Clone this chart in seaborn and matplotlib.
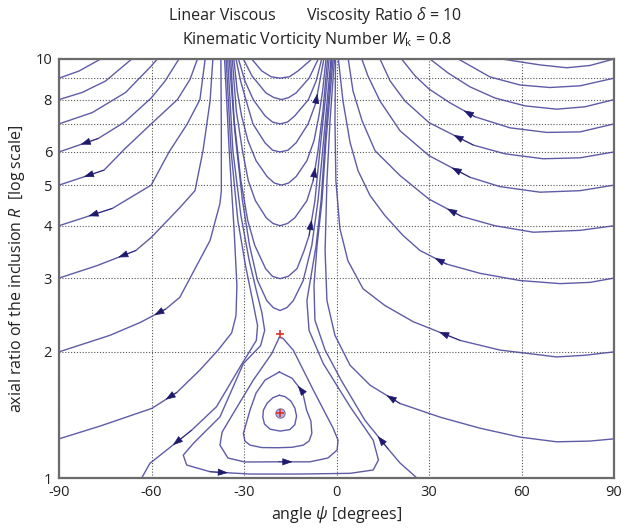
import numpy as np
import pandas as pd
import matplotlib
matplotlib.use("Agg")
import matplotlib.pyplot as plt
from matplotlib.ticker import NullLocator
import seaborn as sns

# ---- trajectories: angle psi [deg], axial ratio R ----
# left family, leaving through psi = -90
L1_psi = [-76.5, -83.5, -90.0]
L1_R = [10.0, 9.36, 9.0]
L2_psi = [-66.4, -74.9, -82.5, -90.0]
L2_R = [10.0, 8.86, 8.32, 8.0]
L3_psi = [-58.1, -60.1, -68.4, -79.2, -90.0]
L3_R = [10.0, 9.62, 8.32, 7.45, 7.0]
L4_psi = [-51.1, -55.6, -60.1, -68.6, -77.3, -90.0]
L4_R = [10.0, 8.86, 8.07, 7.08, 6.46, 6.0]
L5_psi = [-45.1, -47.5, -51.6, -60.1, -68.6, -75.4, -90.0]
L5_R = [10.0, 8.94, 8.0, 7.0, 6.11, 5.43, 5.0]
L6_psi = [-42.6, -44.3, -48.4, -54.3, -60.1, -72.7, -90.0]
L6_R = [10.0, 8.0, 7.0, 6.0, 5.0, 4.4, 4.0]
L7_psi = [-40.1, -41.0, -43.3, -45.9, -50.8, -60.1, -65.1, -77.8, -90.0]
L7_R = [10.0, 7.94, 6.04, 4.85, 4.42, 3.75, 3.49, 3.21, 3.0]
L8_psi = [-37.5, -37.35, -37.35, -37.8, -41.0, -50.8, -55.4, -63.7, -73.5, -90.0]
L8_R = [10.0, 6.74, 4.85, 4.52, 3.69, 2.70, 2.53, 2.35, 2.19, 2.0]
L9_psi = [-36.3, -34.8, -33.2, -32.3, -32.6, -34.0, -38.4, -44.3, -51.8, -59.9, -76.7, -90.0]
L9_R = [10.0, 6.04, 3.90, 2.88, 2.44, 2.22, 2.02, 1.81, 1.60, 1.466, 1.33, 1.24]
L10_psi = [-35.8, -34.2, -32.0, -29.5, -27.2, -25.6, -26.0, -31.3, -38.9, -47.0, -60.5, -63.2]
L10_R = [10.0, 6.04, 4.12, 3.21, 2.65, 2.31, 2.13, 1.84, 1.48, 1.30, 1.084, 1.0]

# U-shaped trajectories above the saddle
U1_psi = [-27.5, -24.2, -21.2, -18.3, -15.3, -12.5, -8.0]
U1_R = [10.0, 9.36, 9.07, 9.0, 9.07, 9.36, 10.0]
U2_psi = [-30.2, -27.4, -22.9, -20.3, -17.8, -15.5, -13.1, -8.9, -5.9]
U2_R = [10.0, 9.11, 8.30, 8.09, 8.0, 8.09, 8.30, 9.0, 10.0]
U3_psi = [-31.8, -29.7, -27.0, -23.2, -20.75, -18.3, -15.9, -13.5, -9.1, -6.6, -4.8]
U3_R = [10.0, 8.86, 8.0, 7.32, 7.07, 7.0, 7.07, 7.32, 8.0, 8.86, 10.0]
U4_psi = [-32.6, -31.1, -29.4, -27.1, -23.2, -20.75, -18.3, -15.7, -13.1, -9.2, -6.8, -5.4, -4.1]
U4_R = [10.0, 8.86, 8.0, 7.0, 6.31, 6.06, 6.0, 6.06, 6.31, 7.0, 7.82, 8.86, 10.0]
U5_psi = [-33.3, -32.2, -30.8, -28.7, -26.1, -22.5, -20.2, -17.8, -15.5, -13.1, -9.6, -7.3,
          -5.7, -4.5, -3.4]
U5_R = [10.0, 8.39, 7.32, 6.38, 5.72, 5.24, 5.06, 5.0, 5.06, 5.24, 5.72, 6.38, 7.32, 8.39, 10.0]
U6_psi = [-33.8, -32.5, -30.5, -28.6, -26.3, -22.8, -20.6, -18.3, -15.9, -13.5, -9.6, -7.6,
          -6.0, -4.4, -2.9]
U6_R = [10.0, 7.52, 6.04, 5.12, 4.59, 4.18, 4.05, 4.0, 4.05, 4.18, 4.59, 5.12, 6.04, 7.52, 10.0]
U7_psi = [-34.3, -33.2, -31.0, -28.8, -26.5, -23.0, -20.8, -18.3, -15.6, -12.8, -10.5, -8.9,
          -7.0, -5.4, -3.7, -2.4]
U7_R = [10.0, 7.12, 5.12, 4.12, 3.59, 3.16, 3.03, 2.99, 3.03, 3.16, 3.49, 3.79, 4.59, 6.04,
        7.94, 10.0]
U8_psi = [-34.8, -33.0, -30.5, -28.2, -25.6, -22.6, -20.5, -18.3, -16.1, -14.0, -10.8, -8.0,
          -6.0, -4.2, -1.8]
U8_R = [10.0, 6.74, 4.59, 3.59, 2.96, 2.65, 2.55, 2.51, 2.55, 2.65, 2.96, 3.59, 4.59, 6.38, 10.0]

# trajectory passing round the homoclinic loop
W_psi = [-35.3, -33.6, -31.0, -28.3, -26.0, -24.2, -23.3, -24.6, -30.2, -37.8, -46.4, -49.7,
         -48.6, -41.0, -28.1, -11.8, 4.4, 11.9, 13.6, 11.9, 4.4, -4.3, -8.9, -9.6, -6.6,
         -5.0, -3.7, -1.5]
W_R = [10.0, 6.04, 4.23, 3.30, 2.80, 2.48, 2.25, 2.07, 1.876, 1.399, 1.21, 1.134,
       1.074, 1.035, 1.022, 1.022, 1.026, 1.045, 1.104, 1.231, 1.48, 1.876, 2.25, 2.65, 3.59,
       4.59, 6.38, 10.0]

# closed orbits round the centre
H_psi = [-18.55, -21.0, -27.0, -33.5, -37.1, -37.8, -35.2, -29.7, -18.9, -8.6, -2.8, 0.2,
         0.5, -1.1, -7.5, -14.0, -17.35, -18.55]
H_R = [2.167, 1.981, 1.712, 1.426, 1.287, 1.198, 1.116, 1.092, 1.093, 1.093, 1.116, 1.166,
       1.231, 1.315, 1.62, 2.018, 2.154, 2.167]
C2_psi = [-18.55, -23.2, -26.1, -28.05, -30.2, -29.7, -28.05, -24.2, -18.9, -14.4, -10.8,
          -8.9, -8.0, -8.3, -9.7, -11.0, -14.4, -18.55]
C2_R = [1.791, 1.712, 1.594, 1.452, 1.278, 1.225, 1.198, 1.182, 1.181, 1.184, 1.198,
        1.225, 1.278, 1.367, 1.452, 1.605, 1.73, 1.791]
C1_psi = [-18.55, -20.6, -22.5, -23.7, -23.9, -23.35, -21.55, -18.3, -15.1, -13.5, -12.95,
          -13.5, -14.75, -16.7, -18.55]
C1_R = [1.576, 1.555, 1.509, 1.452, 1.397, 1.345, 1.308, 1.294, 1.305, 1.341, 1.405,
        1.468, 1.525, 1.564, 1.576]

# trajectory starting at R = 1 on the right
B1_psi = [26.1, 20.6, 16.8, 9.2, 1.5, -3.7, -7.0, -7.3, -6.3, -4.7, -3.4, -1.1]
B1_R = [1.0, 1.086, 1.172, 1.374, 1.712, 2.02, 2.38, 2.88, 3.59, 4.59, 6.38, 10.0]

# right family, entering through psi = +90
RJ_psi = [90.0, 82.2, 71.4, 59.5, 46.5, 33.6, 20.6, 10.9, 4.4, -0.5, -3.1, -3.7, -3.1, -2.1, -0.65]
RJ_R = [1.24, 1.225, 1.220, 1.252, 1.315, 1.397, 1.506, 1.665, 1.858, 2.19, 2.65, 3.49, 5.12, 7.12, 10.0]
RI_psi = [90.0, 80.6, 71.4, 53.0, 40.1, 24.9, 15.7, 8.6, 3.7, 1.1, -0.2, -0.5, -0.3]
RI_R = [2.0, 1.963, 1.945, 2.02, 2.13, 2.36, 2.58, 2.83, 3.30, 3.94, 5.12, 7.12, 10.0]
RH_psi = [90.0, 82.2, 72.5, 59.5, 46.5, 35.7, 27.1, 21.6, 15.7, 10.9, 7.0, 4.4, 2.1, 0.6]
RH_R = [3.0, 2.93, 2.91, 2.96, 3.08, 3.24, 3.49, 3.79, 4.23, 4.72, 5.41, 6.32, 7.94, 10.0]
RG_psi = [90.0, 79.0, 63.8, 51.4, 40.6, 30.0, 20.6, 12.5, 8.3, 5.35, 3.8]
RG_R = [4.0, 3.90, 3.86, 4.00, 4.21, 4.63, 5.27, 6.04, 7.12, 8.39, 10.0]
RF_psi = [90.0, 79.0, 66.0, 53.0, 43.3, 30.0, 20.6, 14.1, 10.2, 8.2]
RF_R = [5.0, 4.85, 4.81, 4.96, 5.22, 5.88, 6.74, 7.94, 9.11, 10.0]
RE_psi = [90.0, 79.0, 67.0, 54.6, 44.4, 30.0, 22.2, 17.4, 14.1]
RE_R = [6.0, 5.81, 5.78, 5.94, 6.23, 7.05, 7.94, 8.86, 10.0]
RD_psi = [90.0, 79.0, 68.2, 56.3, 44.9, 36.8, 30.0, 25.5, 21.1]
RD_R = [7.0, 6.70, 6.68, 6.85, 7.28, 7.86, 8.48, 9.11, 10.0]
RC_psi = [90.0, 80.6, 71.4, 61.1, 51.4, 43.3, 36.2, 30.3]
RC_R = [8.0, 7.69, 7.59, 7.73, 8.07, 8.58, 9.26, 10.0]
RB_psi = [90.0, 79.0, 69.2, 59.5, 49.8, 39.5]
RB_R = [9.0, 8.63, 8.55, 8.67, 9.06, 10.0]
RA_psi = [90.0, 82.2, 74.7, 66.0, 53.6]
RA_R = [10.0, 9.65, 9.53, 9.68, 10.0]

# fixed points
saddle_psi, saddle_R = -18.4, 2.21
centre_psi, centre_R = -18.4, 1.43

curves = {
    "L1": (L1_psi, L1_R), "L2": (L2_psi, L2_R), "L3": (L3_psi, L3_R), "L4": (L4_psi, L4_R),
    "L5": (L5_psi, L5_R), "L6": (L6_psi, L6_R), "L7": (L7_psi, L7_R), "L8": (L8_psi, L8_R),
    "L9": (L9_psi, L9_R), "L10": (L10_psi, L10_R),
    "U1": (U1_psi, U1_R), "U2": (U2_psi, U2_R), "U3": (U3_psi, U3_R), "U4": (U4_psi, U4_R),
    "U5": (U5_psi, U5_R), "U6": (U6_psi, U6_R), "U7": (U7_psi, U7_R), "U8": (U8_psi, U8_R),
    "W": (W_psi, W_R), "H": (H_psi, H_R), "C2": (C2_psi, C2_R), "C1": (C1_psi, C1_R),
    "B1": (B1_psi, B1_R),
    "RJ": (RJ_psi, RJ_R), "RI": (RI_psi, RI_R), "RH": (RH_psi, RH_R), "RG": (RG_psi, RG_R),
    "RF": (RF_psi, RF_R), "RE": (RE_psi, RE_R), "RD": (RD_psi, RD_R), "RC": (RC_psi, RC_R),
    "RB": (RB_psi, RB_R), "RA": (RA_psi, RA_R),
}

# which point of a curve carries a direction arrow
arrow_at = {"L4": 4, "L5": 5, "L6": 5, "L7": 6, "L8": 6, "L9": 8, "L10": 9,
            "U4": 10, "U6": 11, "U7": 11, "W": 13, "H": 8, "C2": 15, "B1": 2,
            "RJ": 6, "RI": 4, "RH": 5, "RG": 4, "RF": 4, "RE": 4, "RD": 4}

df = pd.concat([pd.DataFrame({"curve": k, "psi": p, "R": r}) for k, (p, r) in curves.items()],
               ignore_index=True)

sns.set_theme(style="white")
plt.rcParams["font.family"] = ["Open Sans", "DejaVu Sans"]
plt.rcParams["mathtext.fontset"] = "custom"
plt.rcParams["mathtext.rm"] = "Open Sans"
plt.rcParams["mathtext.it"] = "Open Sans:italic"

LINE = "#4d4a9e"
HEAD = "#1f1a6e"

fig = plt.figure(figsize=(6.34, 5.28), dpi=100)
ax = fig.add_axes([59 / 634, 1 - 478 / 528, 555 / 634, 419 / 528])

sns.lineplot(data=df, x="psi", y="R", units="curve", estimator=None, sort=False,
             color=LINE, lw=1.0, alpha=0.9, ax=ax, legend=False)

ax.set_yscale("log")
ax.set_xlim(-90, 90)
ax.set_ylim(1, 10)

for name, k in arrow_at.items():
    p, r = curves[name]
    lr0, lr1 = np.log10(r[k]), np.log10(r[k + 1])
    tip = (p[k] + 0.45 * (p[k + 1] - p[k]), 10 ** (lr0 + 0.45 * (lr1 - lr0)))
    ax.annotate("", xy=tip, xytext=(p[k], r[k]),
                arrowprops=dict(arrowstyle="-|>,head_length=0.9,head_width=0.32",
                                color=HEAD, lw=0.5, shrinkA=0, shrinkB=0,
                                mutation_scale=7))

# fixed points
ax.scatter([centre_psi], [centre_R], s=45, color="#b9b4da", edgecolor="#7a74b4", lw=0.8, zorder=5)
ax.scatter([centre_psi, saddle_psi], [centre_R, saddle_R], marker="+", s=34, color="#e0302a",
           lw=1.2, zorder=6)

ax.set_xticks([-90, -60, -30, 0, 30, 60, 90])
ax.set_xticklabels(["-90", "-60", "-30", "0", "30", "60", "90"])
ax.yaxis.set_minor_locator(NullLocator())
ax.set_yticks([1, 2, 3, 4, 5, 6, 7, 8, 9, 10])
ax.set_yticklabels(["1", "2", "3", "4", "5", "6", "", "8", "", "10"])
ax.tick_params(length=0, pad=5, labelsize=10.5, colors="#222222")
ax.grid(True, which="major", color="#555555", lw=0.8, ls=(0, (1, 1.6)))

for s in ax.spines.values():
    s.set_color("#6b6b6b")
    s.set_linewidth(1.6)

ax.set_xlabel(r"angle $\psi$ [degrees]", fontsize=11.5, color="#222222")
ax.set_ylabel(r"axial ratio of the inclusion $R$  [log scale]", fontsize=11.5, color="#222222")
ax.xaxis.set_label_coords(0.5, -0.063)
ax.yaxis.set_label_coords(-0.058, 0.5)

fig.text(222 / 634, 1 - 16 / 528, "Linear Viscous", ha="center", va="center", fontsize=11.5,
         color="#222222")
fig.text(384 / 634, 1 - 16 / 528, r"Viscosity Ratio $\delta$ = 10", ha="center", va="center",
         fontsize=11.5, color="#222222")
fig.text(317 / 634, 1 - 40 / 528, r"Kinematic Vorticity Number $W_\mathrm{k}$ = 0.8",
         ha="center", va="center", fontsize=11.5, color="#222222")

fig.savefig("out.png", dpi=100)
